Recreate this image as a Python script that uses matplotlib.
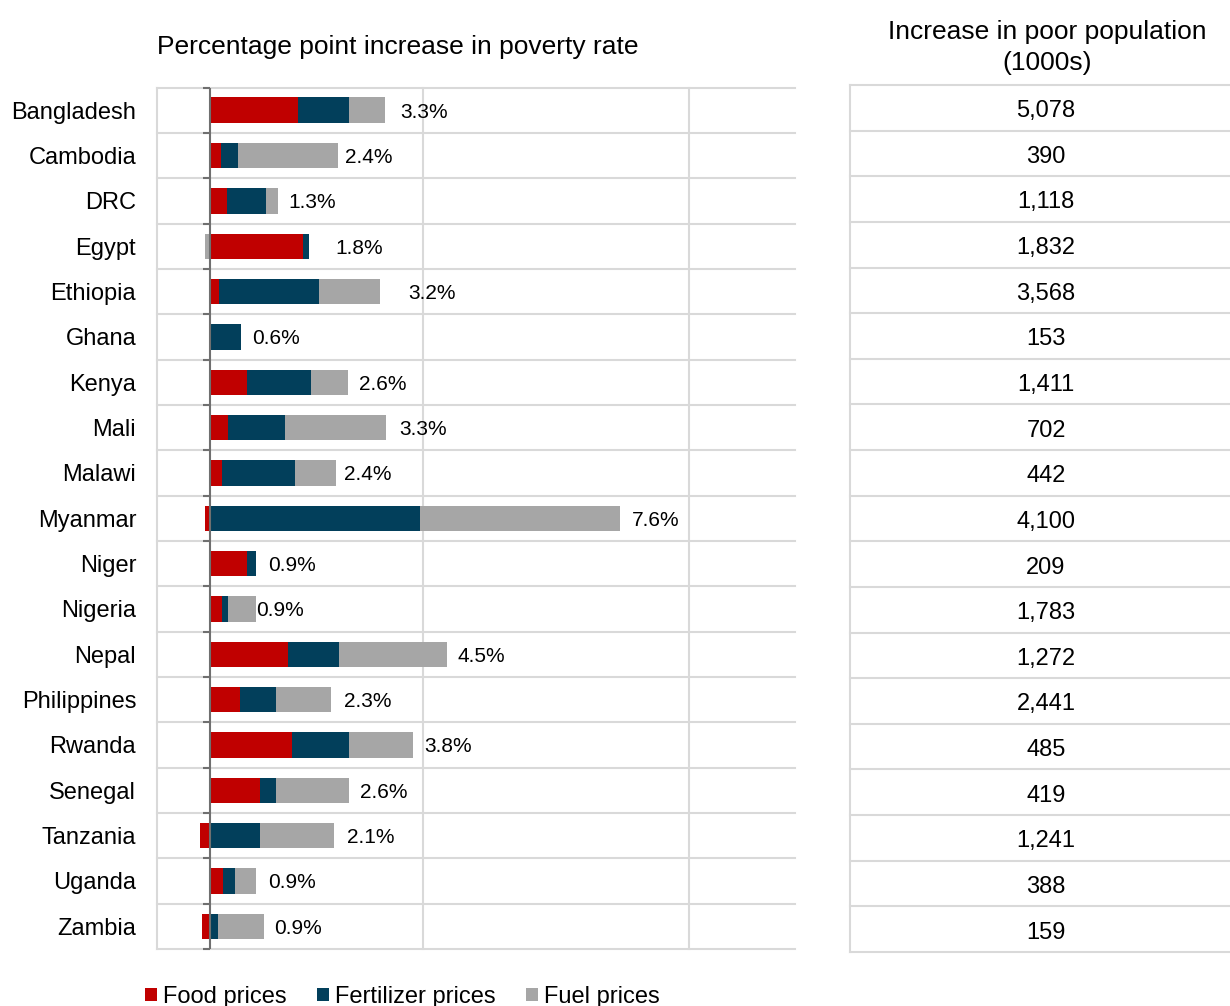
import matplotlib
matplotlib.use("Agg")
import matplotlib.pyplot as plt
import numpy as np

plt.rcParams['font.family'] = ['Liberation Sans', 'DejaVu Sans']

countries = ["Bangladesh", "Cambodia", "DRC", "Egypt", "Ethiopia", "Ghana", "Kenya",
             "Mali", "Malawi", "Myanmar", "Niger", "Nigeria", "Nepal", "Philippines",
             "Rwanda", "Senegal", "Tanzania", "Uganda", "Zambia"]
food = [1.65, 0.21, 0.32, 1.75, 0.16, 0.02, 0.70, 0.34, 0.23, -0.10, 0.70, 0.23, 1.46,
        0.56, 1.53, 0.94, -0.19, 0.24, -0.15]
fertilizer = [0.96, 0.31, 0.73, 0.11, 1.89, 0.56, 1.20, 1.07, 1.37, 3.95, 0.16, 0.10, 0.96,
              0.68, 1.08, 0.30, 0.94, 0.22, 0.15]
fuel = [0.68, 1.89, 0.23, -0.09, 1.14, 0.00, 0.70, 1.90, 0.77, 3.76, 0.00, 0.54, 2.04,
        1.03, 1.21, 1.37, 1.38, 0.41, 0.87]
total_labels = ["3.3%", "2.4%", "1.3%", "1.8%", "3.2%", "0.6%", "2.6%", "3.3%", "2.4%",
                "7.6%", "0.9%", "0.9%", "4.5%", "2.3%", "3.8%", "2.6%", "2.1%", "0.9%", "0.9%"]
poor_pop = ["5,078", "390", "1,118", "1,832", "3,568", "153", "1,411", "702", "442",
            "4,100", "209", "1,783", "1,272", "2,441", "485", "419", "1,241", "388", "159"]
series_names = ["Food prices", "Fertilizer prices", "Fuel prices"]

# style: gap (px) between bar end and its label
label_gap_px = [15, 7, 10, 26, 28, 11, 11, 13, 8, 12, 12, 0, 10, 13, 11, 11, 13, 12, 10]
colors = ["#C00000", "#023F5B", "#A6A6A6"]
grid_c = "#D9D9D9"

W, H = 1230, 1006
fig = plt.figure(figsize=(W / 100, H / 100), dpi=100)
ax = fig.add_axes([157 / W, 1 - 949 / H, (795 - 157) / W, (949 - 87.5) / H])
tab = fig.add_axes([850 / W, 1 - 952 / H, (1242 - 850) / W, (952 - 85) / H])

n = len(countries)
y = np.arange(n)
pos = np.zeros(n)
neg = np.zeros(n)
for vals, c, name in zip([food, fertilizer, fuel], colors, series_names):
    v = np.array(vals)
    left = np.where(v >= 0, pos, neg)
    ax.barh(y, v, left=left, height=0.56, color=c, label=name, linewidth=0, zorder=3)
    pos += np.clip(v, 0, None)
    neg += np.clip(v, None, 0)

for i in range(n):
    ax.annotate(total_labels[i], (pos[i], y[i]), xytext=(label_gap_px[i] * 0.72, 0),
                textcoords="offset points", ha="left", va="center_baseline", fontsize=15,
                color="#000000", zorder=4)

ax.set_xlim(-1, 11)
ax.set_ylim(n - 0.5, -0.5)
for xv in [-1, 4, 9]:
    ax.axvline(xv, color=grid_c, lw=1.5, zorder=1, clip_on=False)
for b in np.arange(-0.5, n, 1.0):
    ax.axhline(b, color=grid_c, lw=1.5, zorder=1, clip_on=False)
# zero axis with tick marks
ax.axvline(0, color="#6F6F6F", lw=1.5, zorder=5)
for b in np.arange(-0.5, n, 1.0):
    ax.plot([-0.13, 0], [b, b], color="#6F6F6F", lw=1.5, zorder=5, clip_on=False,
            solid_capstyle="butt")
for s in ax.spines.values():
    s.set_visible(False)
ax.set_xticks([])
ax.set_yticks(y)
ax.set_yticklabels(countries, fontsize=17)
ax.tick_params(axis="y", length=0, pad=15)

fig.text(157 / W, 1 - 47 / H, "Percentage point increase in poverty rate",
         ha="left", va="center", fontsize=19)

# table
tab.set_xlim(0, 1)
tab.set_ylim(n, 0)
for b in range(n + 1):
    tab.axhline(b, color=grid_c, lw=1.5, clip_on=False)
tab.axvline(0, color=grid_c, lw=1.5, clip_on=False)
for i in range(n):
    tab.text(0.5, i + 0.52, poor_pop[i], ha="center", va="center_baseline", fontsize=17)
for s in tab.spines.values():
    s.set_visible(False)
tab.set_xticks([])
tab.set_yticks([])
fig.text(1047 / W, 1 - 32 / H, "Increase in poor population", ha="center",
         va="center", fontsize=19)
fig.text(1047 / W, 1 - 63 / H, "(1000s)", ha="center", va="center", fontsize=19)

handles, labels = ax.get_legend_handles_labels()
fig.legend(handles, labels, loc="center left", bbox_to_anchor=(145 / W, 1 - 997 / H),
           ncol=3, frameon=False, fontsize=17, handlelength=0.5, handleheight=0.5,
           handletextpad=0.25, columnspacing=1.3, borderpad=0, borderaxespad=0)

fig.savefig("out.png", dpi=100)
